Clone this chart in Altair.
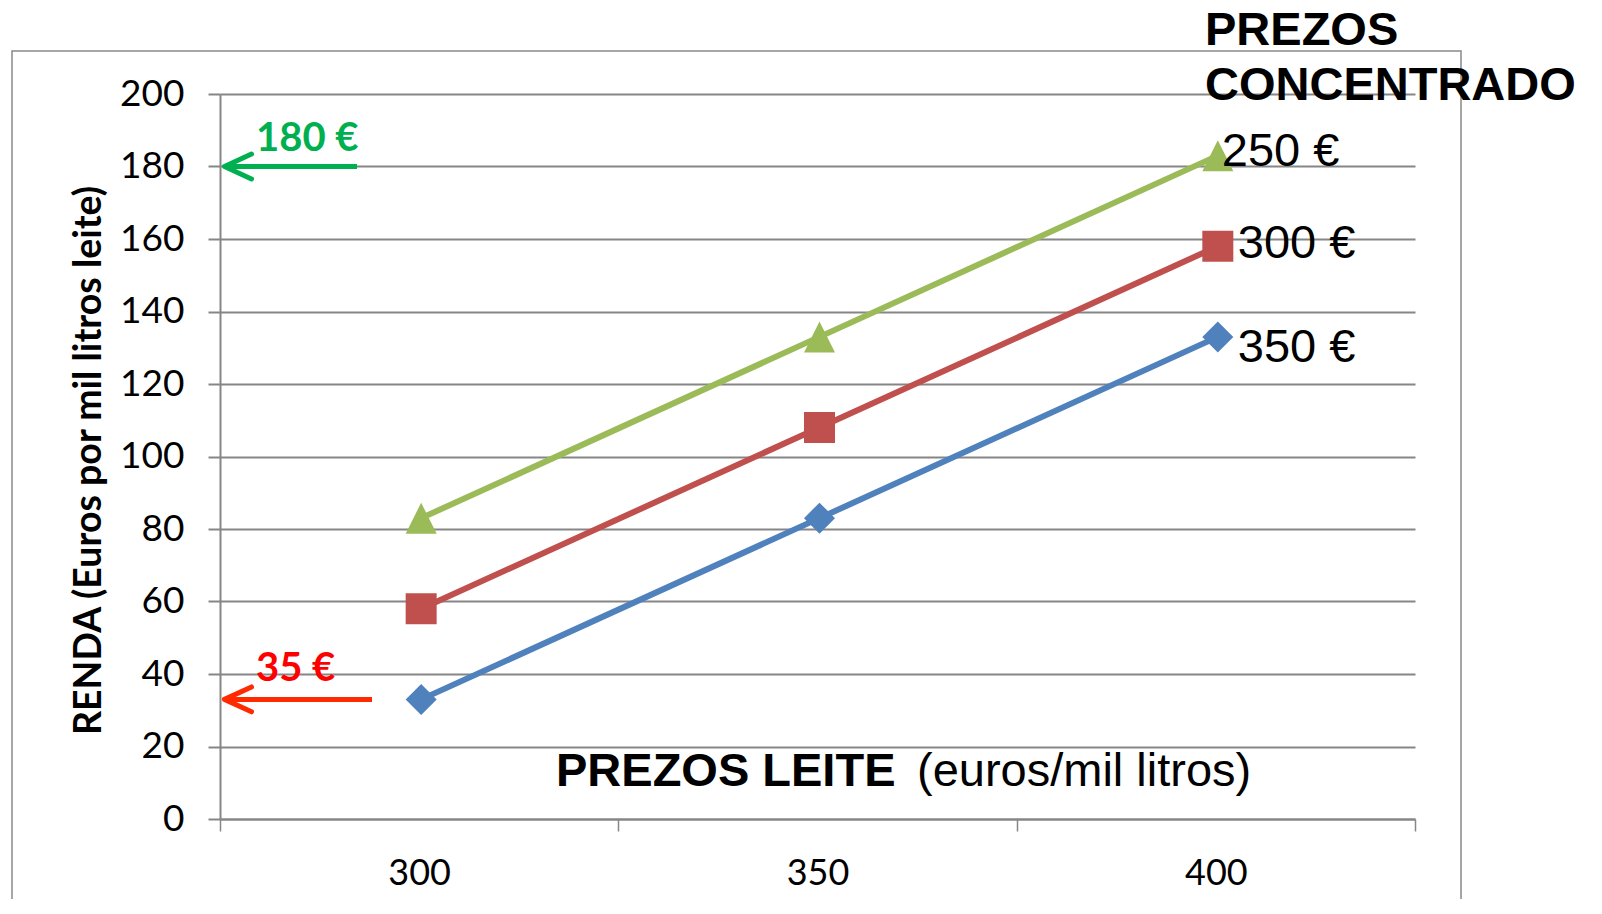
import altair as alt
import pandas as pd

# ---- data ----
milk_prices = ["300", "350", "400"]                 # PREZOS LEITE categories
series_names = ["250 €", "300 €", "350 €"]          # PREZOS CONCENTRADO
renda_250 = [83, 133, 183]
renda_300 = [58, 108, 158]
renda_350 = [33, 83, 133]
y_ticks = [0, 20, 40, 60, 80, 100, 120, 140, 160, 180, 200]
arrow_levels = [180, 33]
arrow_labels = ["180 €", "35 €"]

rows = []
for name, vals in zip(series_names, [renda_250, renda_300, renda_350]):
    for p, v in zip(milk_prices, vals):
        rows.append({"leite": p, "renda": v, "serie": name})
df = pd.DataFrame(rows)

W, H = 1195, 725
GRAY = "#868686"
series_colors = ["#9BBB59", "#C0504D", "#4F81BD"]
series_shapes = ["M 0 -1 L 1 1 L -1 1 Z", "square", "diamond"]
series_sizes = [961, 961, 961]

x_enc = alt.X(
    "leite:O",
    sort=milk_prices,
    bandPosition=0.505,
    scale=alt.Scale(type="band", domain=milk_prices, paddingInner=0, paddingOuter=0),
    axis=alt.Axis(
        title=None, labelAngle=0, labelFont="Lato", labelFontSize=36, labelColor="black",
        labelPadding=25, tickBand="extent", tickSize=12, tickColor=GRAY, tickWidth=1.5,
        domainColor=GRAY, domainWidth=2, grid=False,
    ),
)
y_enc = alt.Y(
    "renda:Q",
    scale=alt.Scale(domain=[0, 200], nice=False),
    axis=alt.Axis(
        values=y_ticks, title="RENDA (Euros por mil litros leite)",
        titleFont="Lato", titleFontSize=37.5, titleFontWeight="bold", titleColor="black",
        titleX=-131, titleY=366, titleBaseline="middle", titleAngle=270,
        labelFont="Lato", labelFontSize=37, labelColor="black", labelPadding=24,
        tickSize=12, tickColor=GRAY, tickWidth=2, gridColor=GRAY, gridWidth=2,
        domainColor=GRAY, domainWidth=2,
    ),
)
color_enc = alt.Color("serie:N", scale=alt.Scale(domain=series_names, range=series_colors), legend=None)

base = alt.Chart(df)

frame = alt.Chart(alt.Data(values=[{}])).mark_rect(
    fillOpacity=0, stroke="#898989", strokeWidth=1.5
).encode(x=alt.value(-208), x2=alt.value(1241), y=alt.value(-43), y2=alt.value(900))

lines = base.mark_line(strokeWidth=6).encode(x=x_enc, y=y_enc, color=color_enc, detail="serie:N")
points = base.mark_point(filled=True, opacity=1).encode(
    x=x_enc, y=y_enc, color=color_enc,
    shape=alt.Shape("serie:N", scale=alt.Scale(domain=series_names, range=series_shapes), legend=None),
    size=alt.Size("serie:N", scale=alt.Scale(domain=series_names, range=series_sizes), legend=None),
)

# end-of-line labels
label_offsets = {"250 €": (4, 10), "300 €": (20, 12), "350 €": (20, 25)}
end_labels = []
for name, vals in zip(series_names, [renda_250, renda_300, renda_350]):
    ddx, ddy = label_offsets[name]
    end_labels.append(
        alt.Chart(alt.Data(values=[{"leite": milk_prices[-1], "renda": vals[-1], "serie": name}]))
        .mark_text(font="Liberation Sans", fontSize=47, color="black", align="left",
                   baseline="alphabetic", dx=ddx, dy=ddy)
        .encode(x=x_enc, y=y_enc, text="serie:N")
    )

one = alt.Chart(alt.Data(values=[{}]))
legend_title = one.mark_text(
    text="PREZOS\nCONCENTRADO", lineBreak="\n", lineHeight=55, font="Liberation Sans",
    fontSize=47, fontWeight="bold", color="black", align="left", baseline="alphabetic",
).encode(x=alt.value(985), y=alt.value(-49))

xtitle_bold = one.mark_text(
    text="PREZOS LEITE", font="Liberation Sans", fontSize=47, fontWeight="bold",
    color="black", align="left", baseline="alphabetic",
).encode(x=alt.value(336), y=alt.value(692))
xtitle_reg = one.mark_text(
    text="(euros/mil litros)", font="Liberation Sans", fontSize=47,
    color="black", align="left", baseline="alphabetic",
).encode(x=alt.value(697), y=alt.value(692))


def arrow(level, label, arrow_color, text_color, shaft_end, text_dy):
    shaft = one.mark_rule(color=arrow_color, strokeWidth=5).encode(
        x=alt.value(5), x2=alt.value(shaft_end), y=alt.datum(level)
    )
    head = one.mark_point(
        shape="M 1 -0.46 L 0 0 L 1 0.46", size=2916, filled=False, color=arrow_color,
        strokeWidth=5, strokeCap="round", strokeJoin="round", opacity=1,
    ).encode(x=alt.value(4.5), y=alt.datum(level))
    txt = one.mark_text(
        text=label, font="Lato", fontSize=40, fontWeight="bold", color=text_color,
        align="left", baseline="alphabetic", dy=text_dy,
    ).encode(x=alt.value(36), y=alt.datum(level))
    return [shaft, head, txt]


arrows = arrow(arrow_levels[0], arrow_labels[0], "#00B050", "#00B050", 137, -16) + \
    arrow(arrow_levels[1], arrow_labels[1], "#FF2A00", "#FF0000", 152, -18)

chart = alt.layer(
    frame, lines, points, *end_labels, legend_title, xtitle_bold, xtitle_reg, *arrows
).properties(
    width=W, height=H,
    padding={"left": 212, "top": 86, "right": 170, "bottom": 80},
    autosize=alt.AutoSizeParams(type="none"),
    background="white",
).configure_view(stroke=None)

chart.save("out.html", embed_options={"renderer": "svg", "actions": False})
